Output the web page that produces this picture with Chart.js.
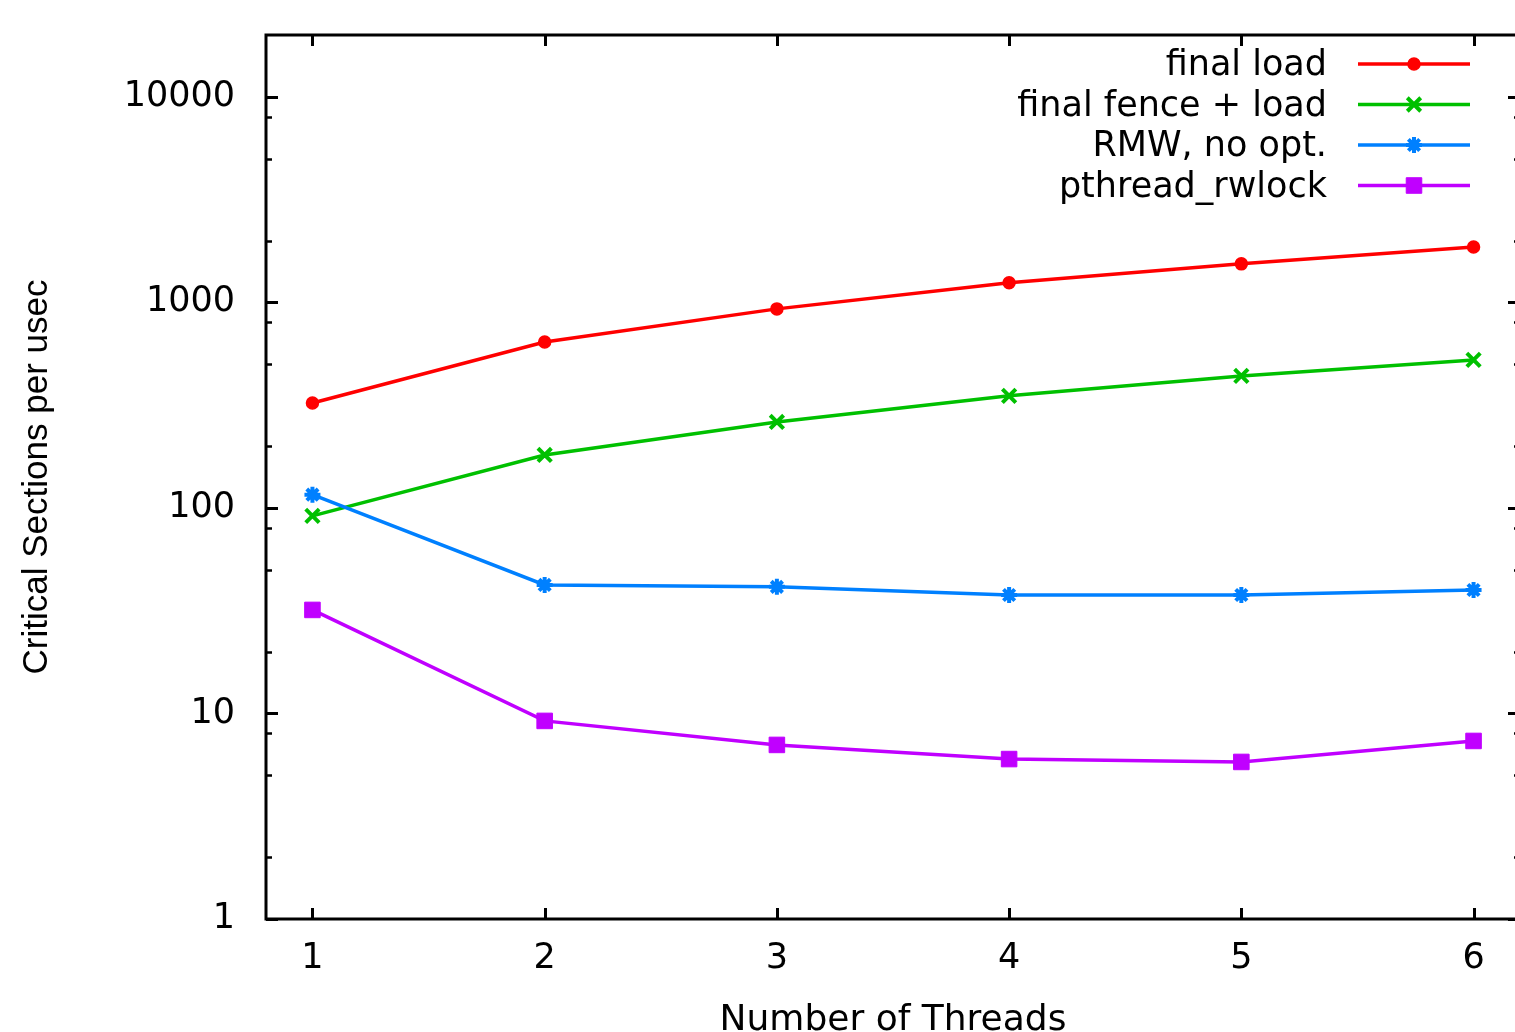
<!DOCTYPE html>
<html><head><meta charset="utf-8">
<script src="https://cdn.jsdelivr.net/npm/chart.js@4.4.1/dist/chart.umd.min.js"></script>
<style>html,body{margin:0;padding:0;overflow:hidden;background:#fff;width:1515px;height:1032px}canvas{display:block}</style>
</head><body>
<canvas id="c" width="1540" height="1032" style="width:1540px;height:1032px"></canvas>
<script>
const threads = [1, 2, 3, 4, 5, 6];
const finalLoad = [324, 642, 930, 1245, 1540, 1862];
const finalFenceLoad = [91.5, 181, 262, 351, 439, 525];
const rmwNoOpt = [116, 42.2, 41.3, 37.7, 37.7, 39.9];
const pthreadRwlock = [31.9, 9.2, 7.03, 6.0, 5.81, 7.35];
const seriesNames = ['final load', 'final fence + load', 'RMW, no opt.', 'pthread_rwlock'];
const yTickValues = [1, 10, 100, 1000, 10000];
const yMinorTickValues = [2, 5, 8, 20, 50, 80, 200, 500, 800, 2000, 5000, 8000];
const xTickValues = [1, 2, 3, 4, 5, 6];
const xTitle = 'Number of Threads';
const yTitle = 'Critical Sections per usec';

const styles = [
  {color: '#ff0000', pointStyle: 'circle', radius: 6, bw: 1.5},
  {color: '#00c000', pointStyle: 'crossRot', radius: 9.5, bw: 4},
  {color: '#0080ff', pointStyle: 'star', radius: 8, bw: 4},
  {color: '#c000ff', pointStyle: 'rect', radius: 11, bw: 1}
];
const seriesValues = [finalLoad, finalFenceLoad, rmwNoOpt, pthreadRwlock];
const datasets = seriesValues.map((vals, i) => ({
  label: seriesNames[i],
  data: threads.map((t, j) => ({x: t, y: vals[j]})),
  borderColor: styles[i].color,
  backgroundColor: styles[i].color,
  borderWidth: 3.5,
  pointStyle: styles[i].pointStyle,
  pointRadius: styles[i].radius,
  pointBorderWidth: styles[i].bw,
  pointBackgroundColor: styles[i].color,
  pointBorderColor: styles[i].color,
  tension: 0,
  order: seriesValues.length - i
}));

function drawMarker(ctx, style, radius, bw, x, y) {
  if (Chart.helpers && Chart.helpers.drawPoint) {
    Chart.helpers.drawPoint(ctx, {pointStyle: style, radius: radius, rotation: 0, borderWidth: bw}, x, y);
    return;
  }
  ctx.beginPath();
  ctx.arc(x, y, radius, 0, Math.PI * 2);
  ctx.fill(); ctx.stroke();
}

const framePlugin = {
  id: 'gnuFrame',
  beforeDatasetsDraw(chart) {
    const {ctx, chartArea: a, scales: {x, y}} = chart;
    ctx.save();
    ctx.strokeStyle = '#000';
    ctx.lineWidth = 3;
    ctx.strokeRect(a.left, a.top, a.right - a.left, a.bottom - a.top);
    ctx.beginPath();
    yTickValues.forEach(v => {
      const p = Math.round(y.getPixelForValue(v)) + 0.5;
      ctx.moveTo(a.left, p); ctx.lineTo(a.left + 12, p);
      ctx.moveTo(a.right - 12, p); ctx.lineTo(a.right, p);
    });
    xTickValues.forEach(v => {
      const p = Math.round(x.getPixelForValue(v)) + 0.5;
      ctx.moveTo(p, a.bottom); ctx.lineTo(p, a.bottom - 11);
      ctx.moveTo(p, a.top); ctx.lineTo(p, a.top + 11);
    });
    ctx.stroke();
    ctx.lineWidth = 2.5;
    ctx.beginPath();
    yMinorTickValues.forEach(v => {
      const p = Math.round(y.getPixelForValue(v)) + 0.5;
      ctx.moveTo(a.left, p); ctx.lineTo(a.left + 6, p);
      ctx.moveTo(a.right - 6, p); ctx.lineTo(a.right, p);
    });
    ctx.stroke();
    ctx.restore();
  }
};

const legendPlugin = {
  id: 'gnuLegend',
  afterDraw(chart) {
    const ctx = chart.ctx;
    const a = chart.chartArea;
    const textRight = a.right - 193;
    const lineStart = a.right - 162;
    const lineEnd = a.right - 50;
    ctx.save();
    ctx.font = '35px "DejaVu Sans"';
    ctx.textAlign = 'right';
    ctx.textBaseline = 'middle';
    chart.data.datasets.forEach((ds, i) => {
      const yy = a.top + 29 + i * 40.5;
      ctx.fillStyle = '#000';
      ctx.fillText(ds.label, textRight, yy + 2);
      ctx.strokeStyle = ds.borderColor;
      ctx.fillStyle = ds.borderColor;
      ctx.lineWidth = 3.5;
      ctx.beginPath();
      ctx.moveTo(lineStart, yy); ctx.lineTo(lineEnd, yy);
      ctx.stroke();
      ctx.lineWidth = ds.pointBorderWidth;
      drawMarker(ctx, ds.pointStyle, ds.pointRadius, ds.pointBorderWidth, (lineStart + lineEnd) / 2, yy);
    });
    ctx.restore();
  }
};

new Chart(document.getElementById('c'), {
  type: 'line',
  data: {datasets: datasets},
  options: {
    responsive: false,
    animation: false,
    layout: {padding: {left: 0, right: 20, top: 35, bottom: 0}},
    plugins: {legend: {display: false}, tooltip: {enabled: false}},
    scales: {
      x: {
        type: 'linear', min: 0.8, max: 6.2,
        afterBuildTicks: s => { s.ticks = xTickValues.map(v => ({value: v})); },
        afterFit: s => { s.height = 113; s.paddingLeft = 0; s.paddingRight = 0; },
        grid: {display: false, drawTicks: false},
        border: {display: false},
        ticks: {font: {family: 'DejaVu Sans', size: 35, lineHeight: 1}, color: '#000', padding: 22, autoSkip: false, maxRotation: 0, callback: v => String(v)},
        title: {display: true, text: xTitle, color: '#000', font: {family: 'DejaVu Sans', size: 36, lineHeight: 1}, padding: {top: 0, bottom: -7}}
      },
      y: {
        type: 'logarithmic', min: 1, max: 20000,
        afterBuildTicks: s => { s.ticks = yTickValues.map(v => ({value: v})); },
        afterFit: s => { s.width = 266; s.paddingTop = 0; s.paddingBottom = 0; },
        grid: {display: false, drawTicks: false},
        border: {display: false},
        ticks: {font: {family: 'DejaVu Sans', size: 35, lineHeight: 1}, color: '#000', padding: 31, autoSkip: false, callback: v => String(v)},
        title: {display: true, text: yTitle, color: '#000', font: {family: 'Liberation Sans', size: 35, lineHeight: 1}, padding: {top: 20, bottom: 0}}
      }
    }
  },
  plugins: [framePlugin, legendPlugin]
});
</script>
</body></html>
